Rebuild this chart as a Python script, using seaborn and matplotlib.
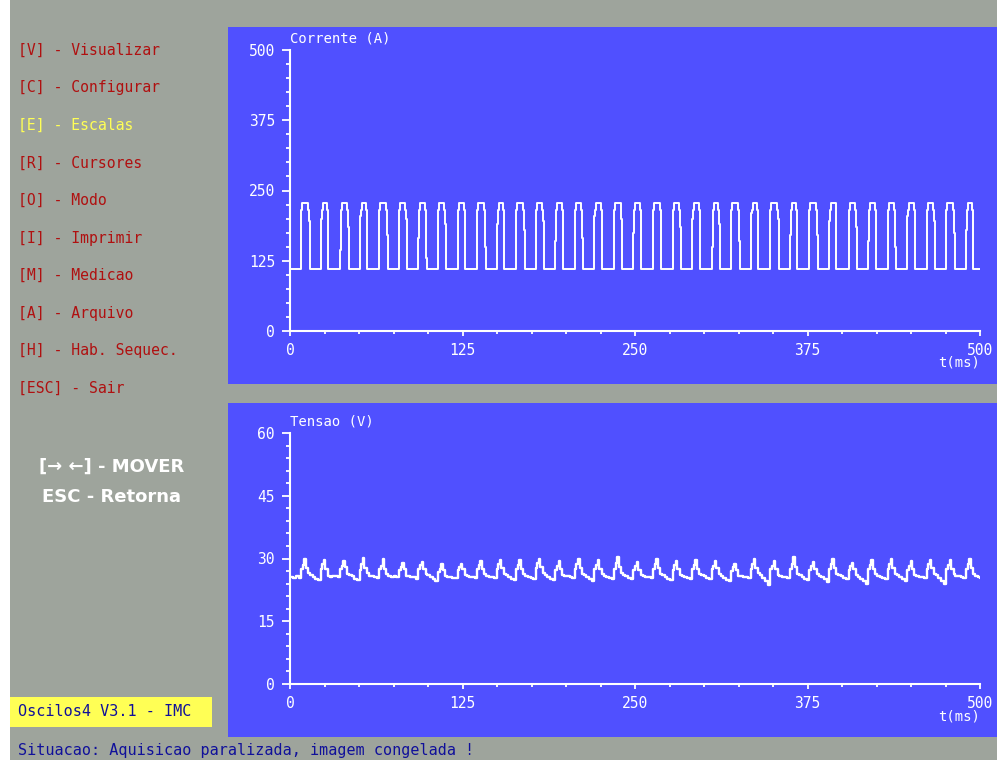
import matplotlib
matplotlib.use("Agg")
import matplotlib.pyplot as plt
from matplotlib.patches import Rectangle
from matplotlib.ticker import MultipleLocator
import pandas as pd
import seaborn as sns

# --- dados lidos da tela do osciloscopio ---
# corrente: instantes de subida e descida de cada pulso (ms)
pulse_rise = [8.0, 22.2, 36.3, 50.5, 64.7, 78.9, 93.0, 107.2, 121.4, 135.5, 149.7, 163.9,
              178.0, 192.2, 206.4, 220.6, 234.7, 248.9, 263.1, 277.2, 291.4, 305.6, 319.7,
              333.9, 348.1, 362.3, 376.4, 390.6, 404.8, 418.9, 433.1, 447.3, 461.4, 475.6, 489.8]
pulse_fall = [13.5, 27.5, 41.8, 55.8, 70.0, 84.2, 98.5, 112.6, 126.8, 141.0, 155.2, 169.3,
              183.5, 197.6, 211.8, 226.0, 240.2, 254.4, 268.5, 282.7, 296.8, 311.0, 325.2,
              339.4, 353.5, 367.7, 381.9, 396.0, 410.2, 424.4, 438.6, 452.7, 466.9, 481.0, 495.2]
# degraus intermediarios nas bordas (A), None = sem degrau
rise_step = [None, 200, 145, 205, None, None, 165, None, 215, None, 190, None, None, 160, None, 205,
             None, 175, None, None, 200, 150, None, 210, None, 170, None, 195, None, 160, None, 205,
             None, None, 180]
fall_step = [195, None, 185, None, 170, 200, 130, 190, None, 150, None, 180, 195, None, 165, None,
             200, None, 140, 185, None, 190, 160, None, 200, None, 170, None, 185, None, 150, None,
             195, 175, None]
i_low = 110
i_shoulder = 215
i_high = 228

# tensao: inicio e amostras por ciclo (offset em ms a partir da subida do pulso)
v_start_t = [0.0, 2.0, 4.5, 6.5]
v_start = [25.5, 25.3, 25.8, 25.4]
v_offsets = [0, 1.2, 2.4, 3.4, 5.2, 6.6, 8.4, 10.4, 12.4]
v_cycles = [
    [27.6, 28.4, 29.9, 27.8, 26.6, 26.0, 25.6, 25.2, 24.9],
    [27.4, 28.6, 29.6, 27.6, 25.9, 25.6, 25.7, 25.8, 25.5],
    [27.5, 28.2, 29.4, 27.9, 26.4, 26.1, 25.7, 25.2, 24.8],
    [27.3, 28.8, 30.1, 27.7, 26.5, 25.8, 25.7, 25.5, 25.3],
    [27.6, 28.3, 29.8, 27.5, 26.2, 25.9, 25.6, 25.7, 25.5],
    [27.2, 28.0, 28.9, 27.4, 25.9, 25.7, 25.6, 25.5, 25.2],
    [27.5, 28.4, 29.2, 27.6, 26.3, 26.0, 25.5, 25.0, 24.6],
    [26.8, 27.6, 28.6, 27.2, 25.7, 25.5, 25.6, 25.4, 25.3],
    [27.3, 27.9, 28.7, 27.4, 26.0, 25.8, 25.6, 25.5, 25.4],
    [27.5, 28.5, 29.5, 27.6, 26.4, 25.9, 25.6, 25.5, 25.3],
    [27.6, 28.7, 29.6, 27.8, 26.3, 26.0, 25.5, 25.1, 24.9],
    [27.4, 28.4, 29.7, 27.5, 26.2, 25.9, 25.6, 25.4, 25.2],
    [27.7, 28.9, 29.8, 27.9, 26.5, 26.1, 25.6, 25.2, 24.9],
    [27.3, 28.2, 29.3, 27.5, 26.1, 25.8, 25.7, 25.5, 25.3],
    [27.5, 28.6, 29.9, 27.7, 26.4, 26.0, 25.5, 25.1, 24.7],
    [27.4, 28.5, 29.6, 27.6, 26.2, 25.9, 25.6, 25.4, 25.2],
    [27.6, 28.9, 30.4, 27.9, 26.6, 26.1, 25.7, 25.3, 25.0],
    [27.2, 28.1, 29.1, 27.3, 26.0, 25.7, 25.6, 25.5, 25.4],
    [27.5, 28.6, 29.8, 27.7, 26.3, 26.0, 25.6, 25.2, 24.9],
    [27.3, 28.4, 29.5, 27.5, 26.1, 25.8, 25.5, 25.3, 25.1],
    [27.4, 28.5, 29.7, 27.6, 26.4, 26.1, 25.7, 25.4, 25.2],
    [27.6, 28.3, 29.4, 27.8, 26.2, 25.8, 25.4, 24.9, 24.6],
    [27.1, 28.0, 28.8, 27.2, 25.9, 25.7, 25.6, 25.5, 25.3],
    [27.5, 28.7, 30.0, 27.7, 26.5, 26.0, 25.4, 24.6, 23.6],
    [27.4, 28.3, 29.3, 27.5, 26.1, 25.8, 25.6, 25.5, 25.3],
    [27.6, 28.8, 30.3, 27.9, 26.4, 26.0, 25.6, 25.2, 24.8],
    [27.3, 28.2, 29.2, 27.4, 26.2, 25.9, 25.5, 25.0, 24.4],
    [27.5, 28.6, 29.9, 27.7, 26.3, 26.0, 25.7, 25.3, 25.0],
    [27.2, 28.1, 29.0, 27.4, 26.0, 25.6, 25.2, 24.6, 23.8],
    [27.4, 28.5, 29.6, 27.6, 26.3, 25.9, 25.6, 25.4, 25.2],
    [27.6, 28.7, 29.8, 27.8, 26.4, 26.1, 25.6, 25.1, 24.7],
    [27.3, 28.3, 29.3, 27.5, 26.1, 25.8, 25.6, 25.5, 25.3],
    [27.5, 28.6, 29.7, 27.7, 26.3, 26.0, 25.4, 24.6, 23.9],
    [27.4, 28.5, 29.6, 27.6, 26.2, 25.9, 25.7, 25.5, 25.4],
    [27.5, 28.8, 30.0, 27.8, 26.4, 25.9, 25.6, 25.4, 25.3],
]

menu = ["[V] - Visualizar", "[C] - Configurar", "[E] - Escalas", "[R] - Cursores",
        "[O] - Modo", "[I] - Imprimir", "[M] - Medicao", "[A] - Arquivo",
        "[H] - Hab. Sequec.", "[ESC] - Sair"]
menu_sel = "[E] - Escalas"

# cores da tela
gray = "#9ea49c"
blue = "#5050ff"
red = "#b01010"
yellow = "#ffff55"
navy = "#10109a"

# monta a forma de onda em degraus (steps-post)
ct, ci = [0.0], [i_low]
for r, f, rs, fs in zip(pulse_rise, pulse_fall, rise_step, fall_step):
    up = r
    if rs is not None:
        ct.append(r); ci.append(rs)
        up = r + 0.7
    ct += [up, up + 0.7, f - 0.7]
    ci += [i_shoulder, i_high, i_shoulder]
    down = f
    if fs is not None:
        ct.append(f); ci.append(fs)
        down = f + 0.7
    ct.append(down); ci.append(i_low)
ct.append(500.0); ci.append(i_low)
df_i = pd.DataFrame({"t": ct, "i": ci})

vt, vv = list(v_start_t), list(v_start)
for r, row in zip(pulse_rise, v_cycles):
    for off, val in zip(v_offsets, row):
        vt.append(r + off); vv.append(val)
df_v = pd.DataFrame({"t": vt, "v": vv})

plt.rcParams["font.family"] = ["DejaVu Sans Mono", "DejaVu Sans"]

W, H = 997, 760
fig = plt.figure(figsize=(W / 100, H / 100), dpi=100, facecolor=gray)

def px(x0, y0, w, h):
    return (x0 / W, 1 - (y0 + h) / H, w / W, h / H)

def rect(x0, y0, w, h, color):
    l, b, ww, hh = px(x0, y0, w, h)
    fig.patches.append(Rectangle((l, b), ww, hh, transform=fig.transFigure,
                                 facecolor=color, edgecolor="none", zorder=-5))

rect(0, 0, 10, H, "white")
rect(228, 27, W - 228, 357, blue)
rect(228, 403, W - 228, 334, blue)
rect(10, 697, 202, 30, yellow)

def setup(ax, ymax, ymajor, yminor):
    ax.set_facecolor("none")
    ax.set_xlim(0, 500)
    ax.set_ylim(0, ymax)
    for s in ["top", "right"]:
        ax.spines[s].set_visible(False)
    for s in ["left", "bottom"]:
        ax.spines[s].set_color("white")
        ax.spines[s].set_linewidth(1.5)
    ax.set_xticks([0, 125, 250, 375, 500])
    ax.xaxis.set_minor_locator(MultipleLocator(25))
    ax.yaxis.set_major_locator(MultipleLocator(ymajor))
    ax.yaxis.set_minor_locator(MultipleLocator(yminor))
    ax.tick_params(axis="y", which="major", length=5.8, width=1.3, color="white",
                   labelcolor="white", labelsize=10.5, pad=5)
    ax.tick_params(axis="y", which="minor", length=2.9, width=1.3, color="white")
    ax.tick_params(axis="x", which="major", length=3.6, width=1.3, color="white",
                   labelcolor="white", labelsize=10.5, pad=5)
    ax.tick_params(axis="x", which="minor", length=2.2, width=1.3, color="white")
    ax.set_xlabel("")
    ax.set_ylabel("")

ax1 = fig.add_axes(px(290, 50, 690, 281))
sns.lineplot(data=df_i, x="t", y="i", ax=ax1, color="white", lw=1.4,
             estimator=None, sort=False, drawstyle="steps-post")
setup(ax1, 500, 125, 25)

ax2 = fig.add_axes(px(290, 433, 690, 251))
sns.lineplot(data=df_v, x="t", y="v", ax=ax2, color="white", lw=1.7,
             estimator=None, sort=False, drawstyle="steps-post")
setup(ax2, 60, 15, 3)

fig.text(290 / W, 1 - 38 / H, "Corrente (A)", color="white", fontsize=10, va="center")
fig.text(290 / W, 1 - 422 / H, "Tensao (V)", color="white", fontsize=10, va="center")
fig.text(959 / W, 1 - 362 / H, "t(ms)", color="white", fontsize=10, ha="center", va="center")
fig.text(959 / W, 1 - 716 / H, "t(ms)", color="white", fontsize=10, ha="center", va="center")

# menu lateral
for k, item in enumerate(menu):
    y = 50 + k * 37.6
    fig.text(18 / W, 1 - y / H, item, color=yellow if item == menu_sel else red,
             fontsize=10.6, va="center")

fig.text(112 / W, 1 - 467 / H, "[\u2192 \u2190] - MOVER", color="white", fontsize=13,
         fontweight="bold", ha="center", va="center", family="DejaVu Sans")
fig.text(111 / W, 1 - 497 / H, "ESC - Retorna", color="white", fontsize=13,
         fontweight="bold", ha="center", va="center", family="DejaVu Sans")

fig.text(18 / W, 1 - 712 / H, "Oscilos4 V3.1 - IMC", color=navy, fontsize=10.9, va="center")
fig.text(18 / W, 1 - 750 / H, "Situacao: Aquisicao paralizada, imagem congelada !",
         color=navy, fontsize=10.9, va="center")

fig.savefig("out.png", dpi=100, facecolor=gray)
